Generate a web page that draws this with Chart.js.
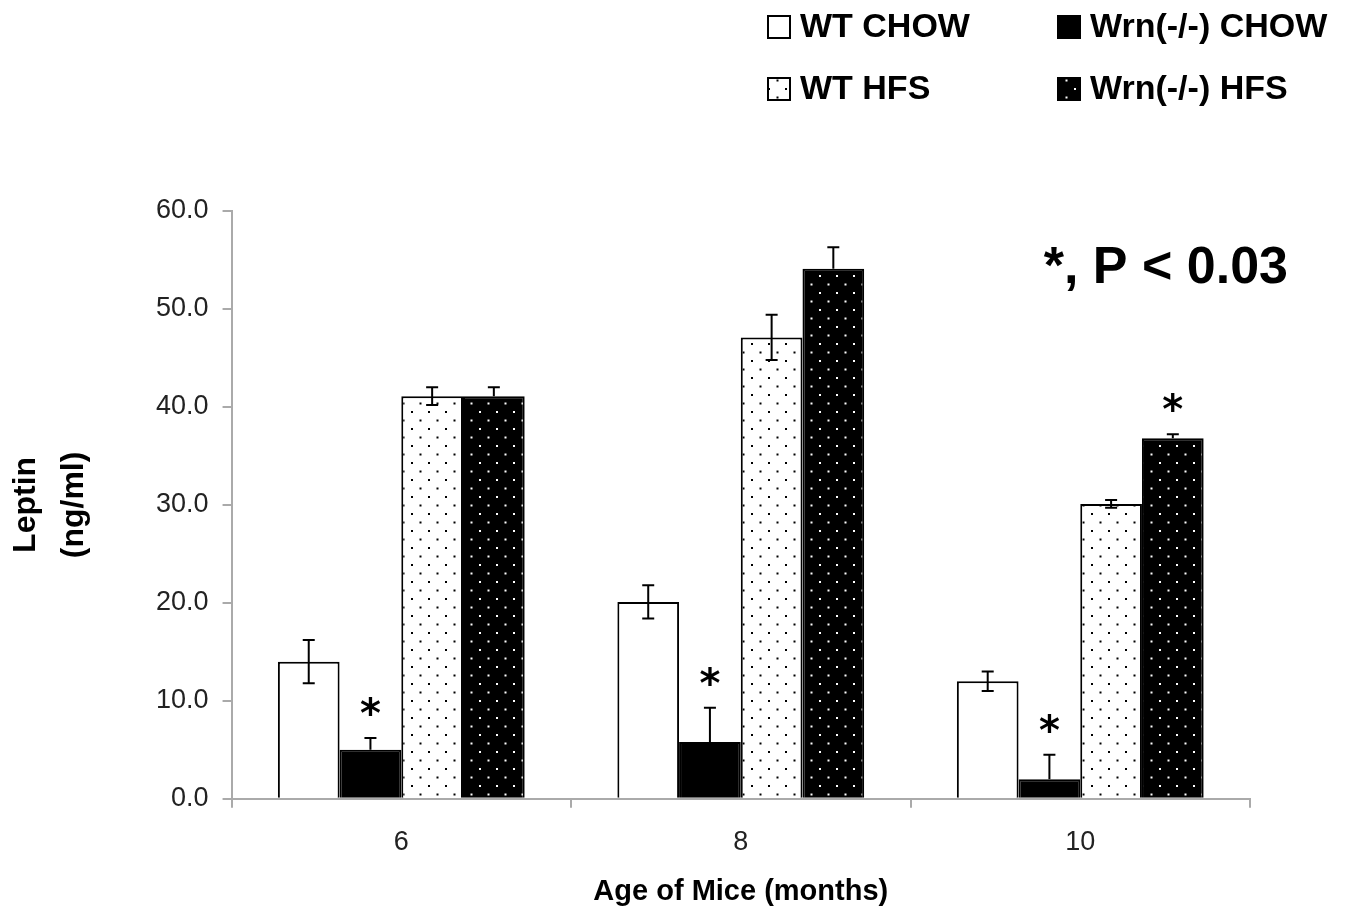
<!DOCTYPE html>
<html>
<head>
<meta charset="utf-8">
<script src="https://cdn.jsdelivr.net/npm/chart.js@4.4.1/dist/chart.umd.min.js"></script>
<style>
  html, body { margin: 0; padding: 0; background: #fff; }
  #wrap { width: 1351px; height: 910px; position: relative; }
</style>
</head>
<body>
<div id="wrap"><canvas id="leptinChart"></canvas></div>
<script>
// data
const ages = ['6', '8', '10'];
const seriesNames = ['WT CHOW', 'Wrn(-/-) CHOW', 'WT HFS', 'Wrn(-/-) HFS'];
const wtChow = [14.0, 20.1, 12.0];
const wrnChow = [5.0, 5.8, 2.0];
const wtHfs = [41.1, 47.1, 30.1];
const wrnHfs = [41.1, 54.1, 36.8];
const wtChowErr = [2.2, 1.7, 1.0];
const wrnChowErr = [1.2, 3.5, 2.5];
const wtHfsErr = [0.9, 2.3, 0.4];
const wrnHfsErr = [0.9, 2.2, 0.4];
// asterisks (P < 0.03)
const wrnChowSig = [true, true, true];
const wrnHfsSig = [false, false, true];
const yTicks = [0, 10, 20, 30, 40, 50, 60];

const FONT = '"Liberation Sans", Arial, sans-serif';

function dotPattern(bg, dot) {
    const c = document.createElement('canvas');
    c.width = 17;
    c.height = 17;
    const g = c.getContext('2d');
    g.fillStyle = bg;
    g.fillRect(0, 0, 17, 17);
    g.fillStyle = dot;
    g.fillRect(3, 3, 2, 2);
    g.fillRect(11.5, 11.5, 2, 2);
    return g.createPattern(c, 'repeat');
}

const whiteDots = dotPattern('#fff', '#000');
const blackDots = dotPattern('#000', '#fff');

const fills = ['#ffffff', '#000000', whiteDots, blackDots];
const darkBar = [false, true, false, true];
const errs = [wtChowErr, wrnChowErr, wtHfsErr, wrnHfsErr];
const sigs = [null, wrnChowSig, null, wrnHfsSig];

// error bars, asterisks, legend and p-value note
const extras = {
    id: 'extras',
    afterDatasetsDraw(chart) {
        const ctx = chart.ctx;
        const y = chart.scales.y;
        ctx.save();
        chart.data.datasets.forEach((ds, i) => {
            const meta = chart.getDatasetMeta(i);
            meta.data.forEach((bar, j) => {
                const v = ds.data[j];
                const e = errs[i][j];
                const top = y.getPixelForValue(v + e);
                const bot = darkBar[i] ? bar.y : y.getPixelForValue(v - e);
                ctx.strokeStyle = '#000';
                ctx.lineWidth = 2;
                ctx.beginPath();
                ctx.moveTo(bar.x, top);
                ctx.lineTo(bar.x, bot);
                ctx.moveTo(bar.x - 6, top);
                ctx.lineTo(bar.x + 6, top);
                if (!darkBar[i]) {
                    ctx.moveTo(bar.x - 6, bot);
                    ctx.lineTo(bar.x + 6, bot);
                }
                ctx.stroke();
                if (sigs[i] && sigs[i][j]) {
                    ctx.fillStyle = '#000';
                    ctx.font = 'bold 40px "DejaVu Sans", sans-serif';
                    ctx.textAlign = 'center';
                    ctx.textBaseline = 'alphabetic';
                    const m = ctx.measureText('*');
                    const mid = (m.actualBoundingBoxAscent - m.actualBoundingBoxDescent) / 2;
                    ctx.fillText('*', bar.x, top - 32 + mid);
                }
            });
        });

        // p-value note
        const area = chart.chartArea;
        ctx.fillStyle = '#000';
        ctx.font = 'bold 52px ' + FONT;
        ctx.textAlign = 'right';
        ctx.textBaseline = 'middle';
        ctx.fillText('*, P < 0.03', area.right + 38, area.top + 58);

        // legend, 2 x 2
        const cols = [768, 1058];
        const rows = [27, 89];
        ctx.font = 'bold 34px ' + FONT;
        ctx.textAlign = 'left';
        seriesNames.forEach((name, k) => {
            const cx = cols[k % 2];
            const cy = rows[Math.floor(k / 2)];
            ctx.fillStyle = fills[k];
            ctx.fillRect(cx, cy - 11, 22, 22);
            ctx.strokeStyle = '#000';
            ctx.lineWidth = 2;
            ctx.strokeRect(cx, cy - 11, 22, 22);
            ctx.fillStyle = '#000';
            ctx.fillText(name, cx + 32, cy + 1);
        });
        ctx.restore();
    }
};

const datasets = [wtChow, wrnChow, wtHfs, wrnHfs].map((vals, i) => ({
    label: seriesNames[i],
    data: vals,
    backgroundColor: fills[i],
    borderColor: '#000',
    borderWidth: 2,
    borderSkipped: 'bottom',
    barPercentage: 1.0,
    categoryPercentage: 0.727,
}));

new Chart(document.getElementById('leptinChart'), {
    type: 'bar',
    data: { labels: ages, datasets: datasets },
    options: {
        responsive: true,
        maintainAspectRatio: false,
        animation: false,
        events: [],
        layout: { padding: { top: 211, right: 101, bottom: 1, left: 2 } },
        plugins: {
            legend: { display: false },
            tooltip: { enabled: false },
        },
        scales: {
            x: {
                grid: {
                    offset: true,
                    drawOnChartArea: false,
                    drawTicks: true,
                    tickLength: 9,
                    color: '#aaa',
                    lineWidth: 2,
                },
                border: { color: '#aaa', width: 2 },
                ticks: {
                    color: '#222',
                    font: { family: FONT, size: 27 },
                    padding: 19,
                },
                title: {
                    display: true,
                    text: 'Age of Mice (months)',
                    color: '#000',
                    font: { family: FONT, size: 29, weight: 'bold' },
                    padding: { top: -4, bottom: 0 },
                },
            },
            y: {
                min: 0,
                max: 60,
                afterBuildTicks: (axis) => {
                    axis.ticks = yTicks.map(v => ({ value: v }));
                },
                grid: {
                    drawOnChartArea: false,
                    tickLength: 9,
                    color: '#aaa',
                    lineWidth: 2,
                },
                border: { color: '#aaa', width: 2 },
                ticks: {
                    color: '#222',
                    font: { family: FONT, size: 27 },
                    padding: 14,
                    callback: (v) => Number(v).toFixed(1),
                },
                title: {
                    display: true,
                    text: ['Leptin', '(ng/ml)'],
                    color: '#000',
                    font: { family: FONT, size: 32, weight: 'bold', lineHeight: 1.5 },
                    padding: { top: 0, bottom: 44 },
                },
            },
        },
    },
    plugins: [extras],
});
</script>
</body>
</html>
